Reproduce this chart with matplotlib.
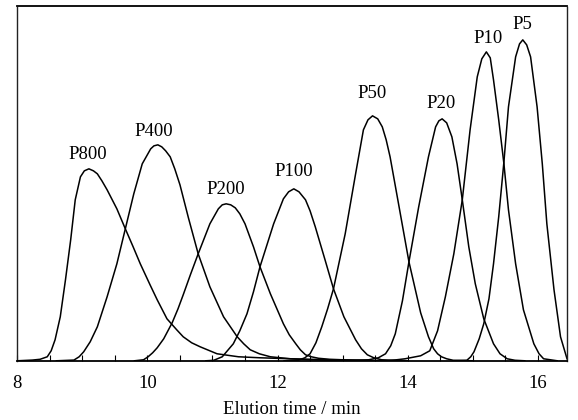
import matplotlib
matplotlib.use("Agg")
import matplotlib.pyplot as plt
from matplotlib.ticker import MultipleLocator

plt.rcParams['font.family'] = ['Liberation Serif', 'DejaVu Serif']

# Chromatogram traces (elution time in min, detector signal, arbitrary units)
p800_t = [8.0, 8.23, 8.35, 8.46, 8.52, 8.58, 8.66, 8.74, 8.82, 8.89, 8.97, 9.03, 9.10, 9.17, 9.23, 9.30,
          9.38, 9.53, 9.66, 9.78, 9.89, 10.04, 10.15, 10.30, 10.45, 10.55, 10.68, 10.81, 11.07, 11.4,
          11.73, 12.2, 12.8, 13.5, 14.0]
p800_y = [0, 0.7, 1.5, 4, 10, 21, 44, 81, 121, 161, 184, 190, 192, 190, 187, 180,
          171, 152, 132, 114, 97, 76, 61, 42, 31, 24, 18, 14, 7, 4,
          3, 2, 1, 0.3, 0]

p400_t = [8.6, 8.87, 8.95, 9.02, 9.12, 9.23, 9.38, 9.53, 9.66, 9.79, 9.92, 10.05, 10.10, 10.16, 10.22,
          10.28, 10.35, 10.42, 10.50, 10.63, 10.78, 10.96, 11.17, 11.38, 11.48, 11.58, 11.72, 11.89,
          12.2, 12.5, 13.2]
p400_y = [0, 0.7, 4, 9, 19, 34, 64, 97, 132, 167, 197, 212, 215, 216, 214,
          210, 204, 192, 176, 143, 107, 74, 44, 24, 17, 11, 7, 4,
          2, 1, 0]

p200_t = [9.8, 9.94, 10.01, 10.08, 10.15, 10.25, 10.38, 10.47, 10.55, 10.66, 10.78, 10.96, 11.09, 11.15,
          11.21, 11.28, 11.35, 11.42, 11.50, 11.63, 11.73, 11.89, 12.09, 12.18, 12.28, 12.35, 12.43,
          12.52, 12.63, 12.8, 13.0, 13.5]
p200_y = [0, 1, 4, 8, 13, 22, 38, 52, 66, 86, 107, 137, 152, 156,
          157, 156, 153, 147, 137, 114, 94, 67, 37, 26, 17, 11, 6,
          4, 2.5, 1.5, 1, 0]

p100_t = [10.9, 11.02, 11.15, 11.32, 11.42, 11.53, 11.63, 11.73, 11.94, 12.09, 12.17, 12.25, 12.33, 12.43,
          12.50, 12.58, 12.73, 12.86, 13.02, 13.20, 13.29, 13.38, 13.48, 13.6, 14.0]
p100_y = [0, 0.5, 4, 17, 30, 47, 69, 94, 137, 162, 169, 172, 169, 161,
          150, 134, 101, 72, 44, 21, 12, 6, 3, 1, 0]

p50_t = [12.1, 12.32, 12.42, 12.50, 12.59, 12.68, 12.77, 12.86, 13.04, 13.20, 13.32, 13.39, 13.46, 13.54,
         13.61, 13.67, 13.73, 13.86, 14.02, 14.20, 14.32, 14.40, 14.46, 14.52, 14.6, 14.7, 15.0]
p50_y = [0, 0.5, 3, 7, 18, 34, 52, 72, 127, 187, 231, 241, 245, 242,
         234, 221, 204, 157, 99, 48, 24, 12, 7, 4, 2, 0.5, 0]

p20_t = [13.0, 13.4, 13.55, 13.66, 13.74, 13.81, 13.92, 14.02, 14.17, 14.32, 14.43, 14.48, 14.53, 14.60,
         14.68, 14.76, 14.84, 14.94, 15.04, 15.17, 15.32, 15.42, 15.53, 15.65, 15.8]
p20_y = [0, 1, 3, 7, 15, 27, 60, 99, 154, 204, 234, 240, 242, 238,
         224, 197, 161, 114, 77, 42, 17, 7, 2, 0.5, 0]

p10_t = [13.7, 13.96, 14.2, 14.34, 14.46, 14.58, 14.71, 14.84, 14.96, 15.07, 15.14, 15.21, 15.27, 15.32,
         15.40, 15.48, 15.55, 15.66, 15.78, 15.94, 16.02, 16.09, 16.3]
p10_y = [0, 2, 5, 10, 30, 64, 107, 161, 231, 284, 302, 309, 303, 281,
         241, 197, 151, 97, 51, 17, 7, 2, 0]

p5_t = [14.7, 14.91, 14.97, 15.02, 15.10, 15.17, 15.25, 15.32, 15.40, 15.48, 15.55, 15.66, 15.72, 15.77,
        15.83, 15.89, 15.99, 16.07, 16.14, 16.25, 16.35, 16.45]
p5_y = [0, 0.5, 4, 9, 22, 37, 62, 97, 144, 199, 254, 304, 317, 321,
        316, 304, 254, 197, 137, 71, 24, 2]

labels = ["P800", "P400", "P200", "P100", "P50", "P20", "P10", "P5"]
label_t = [9.09, 10.10, 11.20, 12.25, 13.46, 14.51, 15.23, 15.77]
label_y = [206, 229, 171, 189, 267, 257, 322, 336]

x_ticks = [8, 10, 12, 14, 16]
x_label = "Elution time / min"

fig = plt.figure(figsize=(5.78, 4.2), dpi=100)
ax = fig.add_axes([0.030, 0.141, 0.951, 0.845])

traces = [(p800_t, p800_y), (p400_t, p400_y), (p200_t, p200_y), (p100_t, p100_y),
          (p50_t, p50_y), (p20_t, p20_y), (p10_t, p10_y), (p5_t, p5_y)]
for t, y in traces:
    ax.plot(t, y, color='black', lw=1.1, solid_joinstyle='round', antialiased=True)

for lab, lt, ly in zip(labels, label_t, label_y):
    ax.text(lt, ly, lab, ha='center', va='center', fontsize=13.5)

ax.set_xlim(8, 16.45)
ax.set_ylim(0, 355)
ax.set_xticks(x_ticks)
ax.set_xticklabels([str(v) for v in x_ticks], fontsize=13.5)
ax.xaxis.set_minor_locator(MultipleLocator(0.5))
ax.tick_params(axis='x', which='both', direction='in', length=4, width=0.8, pad=10)
ax.set_yticks([])
ax.set_xlabel(x_label, fontsize=13.5, labelpad=7)

for side in ['left', 'right']:
    ax.spines[side].set_linestyle((0, (1, 1)))
    ax.spines[side].set_linewidth(1.0)
    ax.spines[side].set_color('#222222')
ax.spines['top'].set_linewidth(1.3)
ax.spines['bottom'].set_linewidth(1.3)

fig.savefig("out.png", dpi=100)
